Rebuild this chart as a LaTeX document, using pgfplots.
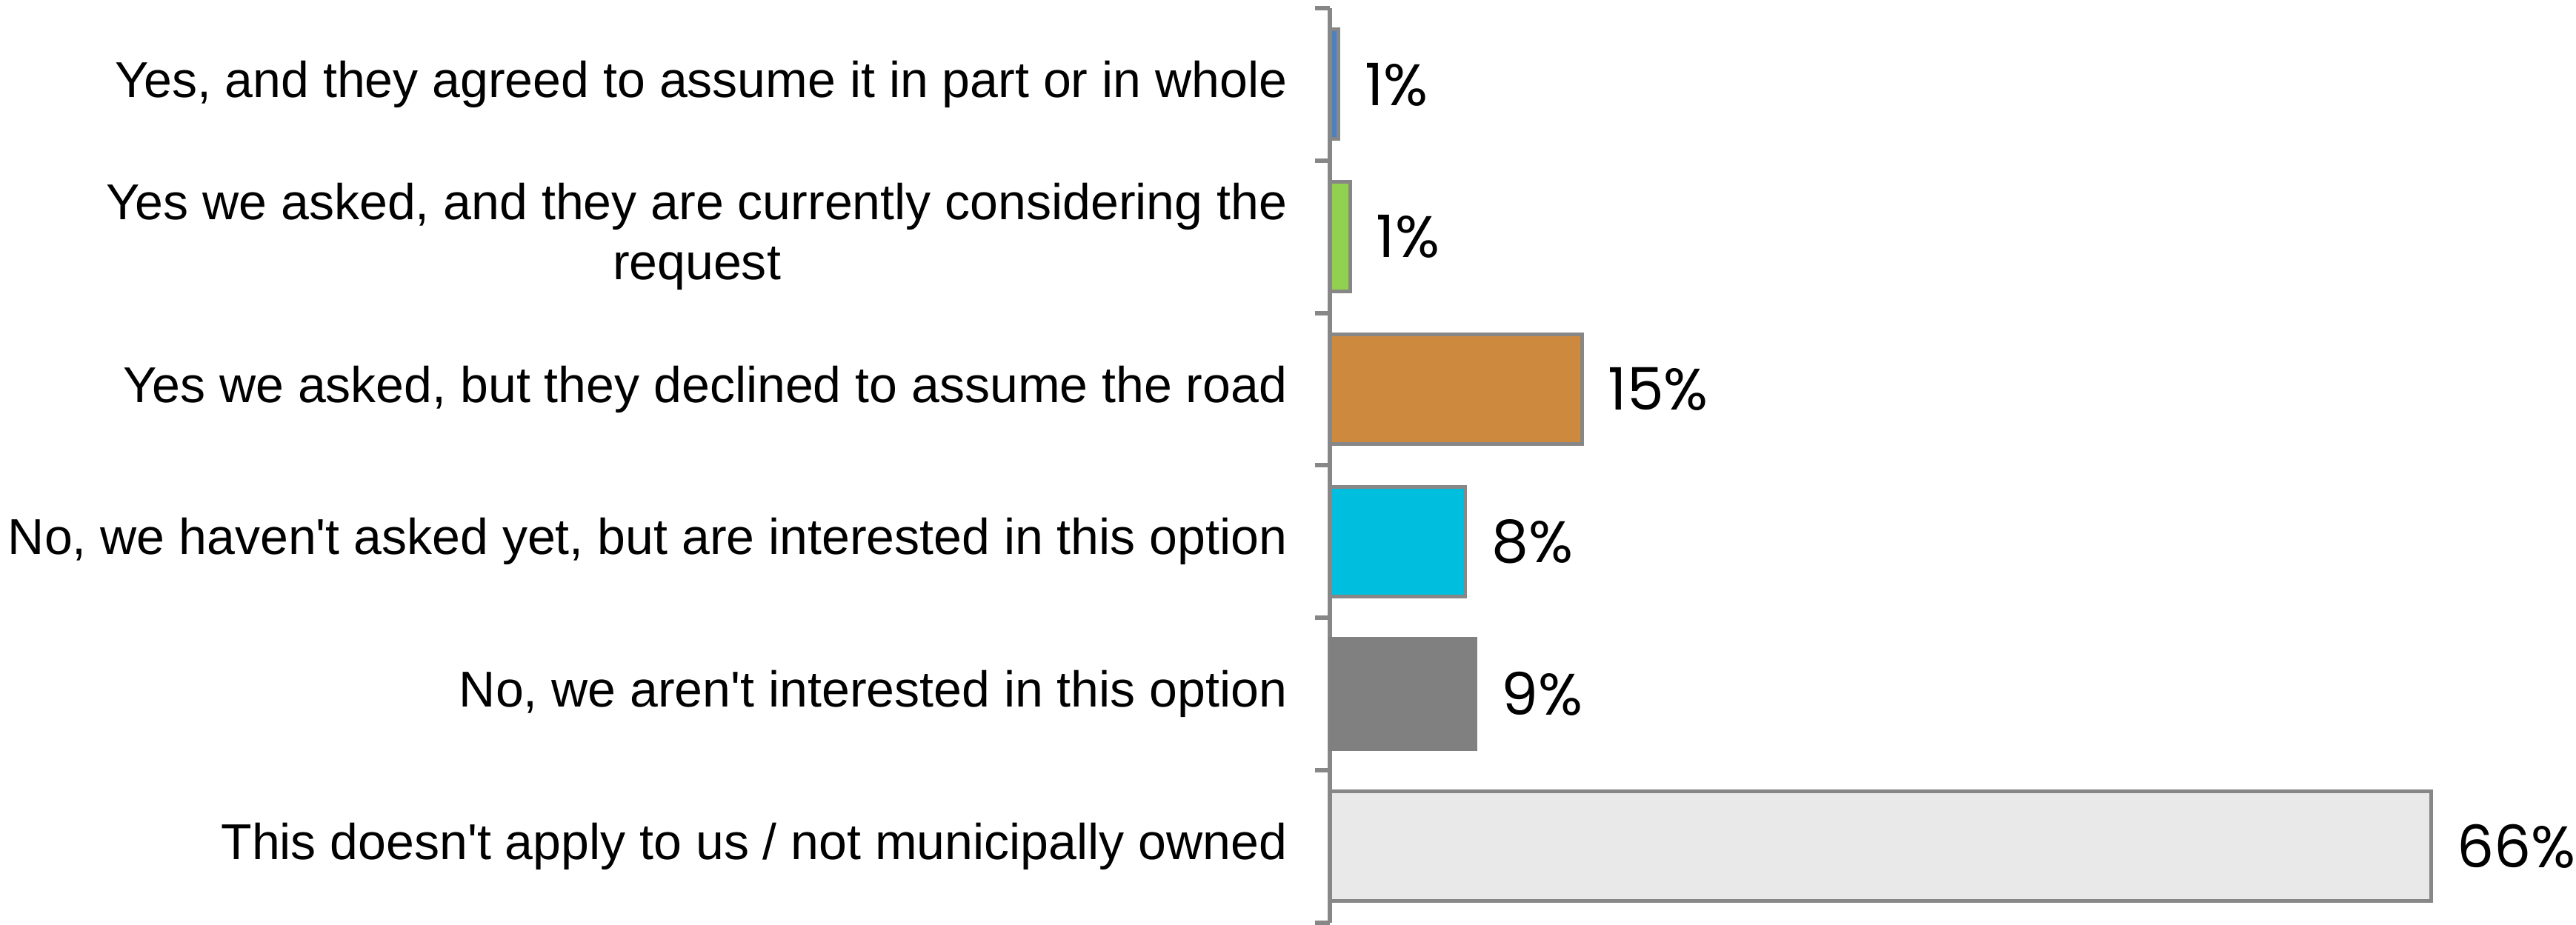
\documentclass[border={1.1pt 0pt 0pt 0pt}]{standalone}
\usepackage{pgfplots}
\pgfplotsset{compat=1.18}
\usepackage{fontspec}
\setmainfont{Liberation Sans}
\newfontfamily\valfont{Poppins}

\definecolor{axgray}{HTML}{878787}
\definecolor{cblue}{HTML}{4F81BD}
\definecolor{cgreen}{HTML}{92D050}
\definecolor{corange}{HTML}{CD8A3F}
\definecolor{ccyan}{HTML}{00BFDE}
\definecolor{cdark}{HTML}{808080}
\definecolor{clight}{HTML}{E9E9E9}

\begin{document}
\begin{tikzpicture}
\begin{axis}[
  xbar, bar shift=0pt, bar width=14.8pt,
  scale only axis, width=148.5pt, height=123.4pt,
  xmin=0, xmax=66, ymin=-0.5, ymax=5.5, y dir=reverse,
  axis x line=none,
  axis y line*=left,
  axis line style={axgray, line width=0.6pt},
  ytick={0,...,5},
  yticklabels={
    {Yes, and they agreed to assume it in part or in whole},
    {Yes we asked, and they are currently considering the\\request},
    {Yes we asked, but they declined to assume the road},
    {No, we haven\textquotesingle t asked yet, but are interested in this option},
    {No, we aren\textquotesingle t interested in this option},
    {This doesn\textquotesingle t apply to us / not municipally owned}},
  major tick length=0pt,
  minor ytick={-0.5,0.5,...,5.5},
  minor tick length=2pt, tick align=outside,
  minor tick style={axgray, line width=0.6pt},
  yticklabel style={font=\fontsize{6.8}{8.1}\selectfont, align=center, inner sep=0pt, xshift=-5.6pt},
  point meta=explicit,
  nodes near coords={\pgfmathprintnumber[assume math mode=true]{\pgfplotspointmeta}\%},
  nodes near coords style={font=\valfont\fontsize{7.9}{9}\selectfont, black, anchor=west, inner sep=0pt, xshift=3.3pt},
  clip=false,
]
\addplot[fill=cblue, draw=axgray, line width=0.5pt] coordinates {(0.5,0) [1]};
\addplot[fill=cgreen, draw=axgray, line width=0.5pt] coordinates {(1.2,1) [1]};
\addplot[fill=corange, draw=axgray, line width=0.5pt] coordinates {(15.1,2) [15]};
\addplot[fill=ccyan, draw=axgray, line width=0.5pt] coordinates {(8.1,3) [8]};
\addplot[fill=cdark, draw=cdark, line width=0.5pt] coordinates {(8.7,4) [9]};
\addplot[fill=clight, draw=axgray, line width=0.5pt] coordinates {(66,5) [66]};
\path ([yshift=1.1pt]axis description cs:0,1);
\end{axis}
\end{tikzpicture}
\end{document}
